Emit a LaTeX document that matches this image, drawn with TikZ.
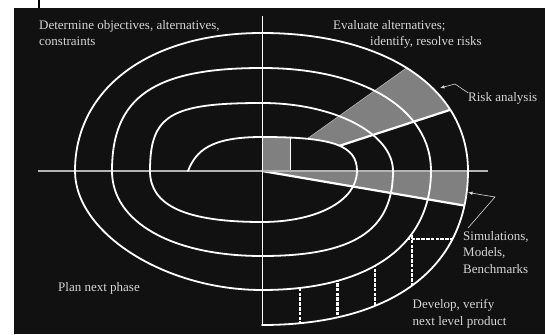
\documentclass[tikz,border=0pt]{standalone}
\usepackage{fontspec}
\setmainfont{Liberation Serif}
\usepackage{tikz}
\usetikzlibrary{arrows.meta,positioning}
\definecolor{board}{HTML}{111111}
\definecolor{chalk}{HTML}{FFFFFF}
\definecolor{labelgray}{HTML}{D6D6D6}
\definecolor{axisgray}{HTML}{B4B4B4}
\definecolor{wedge}{HTML}{808080}
\tikzset{
  spiral/.style={draw=chalk,line width=1.8pt,line cap=round,line join=round},
  axisline/.style={draw=axisgray,line width=1.2pt},
  rayline/.style={draw=chalk,line width=2.2pt},
  thinray/.style={draw=axisgray,line width=0.6pt},
  devdash/.style={draw=chalk,line width=2.3pt,dash pattern=on 3.5pt off 1.3pt},
  lbl/.style={font=\fontsize{13}{15}\selectfont,text=labelgray,
              anchor=base west,inner sep=0pt},
  pointer/.style={-{Latex[length=4.5pt,width=3.5pt]},draw=labelgray,
                  line width=0.6pt},
}
% quarter turn from (#1,#2) to (#3,#4); #5 sets how square the turn is
\newcommand{\quarterto}[5]{.. controls ({#1+#5*(#3)},{#2+#5*(#4)})
  and ({#3+#5*(#1)},{#4+#5*(#2)}) .. (#3,#4)}

\begin{document}
\begin{tikzpicture}[x=1pt,y=1pt]
  \useasboundingbox (-262,-163) rectangle (283,171);
  \fill[white] (-262,-163) rectangle (283,171);
  \fill[board] (-248,-163) rectangle (283,163);
  \draw[black,line width=1.6pt] (-223,171) -- (-223,163);
  \coordinate (O) at (0,0);

  % risk analysis sector
  \begin{scope}
    \clip (0,138) \quarterto{0}{138}{206}{0}{0.6} -- (95,0)
          \quarterto{95}{0}{0}{34}{0.75} -- cycle;
    \fill[wedge] (O) -- (18:300) -- (35.5:300) -- cycle;
    \draw[thinray] (O) -- (35.5:300);
    \draw[rayline] (O) -- (18:300);
  \end{scope}
  % first prototype
  \begin{scope}
    \clip (O) -- (0,34) \quarterto{0}{34}{95}{0}{0.75} -- cycle;
    \fill[wedge] (O) rectangle (28.5,40);
    \draw[chalk,line width=0.8pt] (28.5,0) -- (28.5,40);
  \end{scope}
  % simulations sector
  \begin{scope}
    \clip (O) -- (206,0) \quarterto{206}{0}{0}{-154}{0.63} -- cycle;
    \fill[wedge] (O) -- (0:300) -- (-9.7:300) -- cycle;
    \draw[rayline] (O) -- (-9.7:300);
  \end{scope}
  % develop, verify band
  \begin{scope}
    \clip (169,0) \quarterto{169}{0}{0}{-119}{0.63} -- (0,-154)
          \quarterto{0}{-154}{206}{0}{0.63} -- cycle;
    \foreach \x in {38,75.5,113,150}
      \draw[devdash] (\x,-40) -- (\x,-160);
    \draw[devdash] (140,-68) -- (220,-68);
  \end{scope}

  \draw[axisline] (-224,0) -- (226,0);
  \draw[chalk,line width=1pt] (0,155) -- (0,-154);

  \draw[spiral] (-74,0) .. controls (-66,20) and (-52,34) .. (0,34)
    \quarterto{0}{34}{95}{0}{0.75}
    \quarterto{95}{0}{0}{-51}{0.58}
    \quarterto{0}{-51}{-112}{0}{0.68}
    \quarterto{-112}{0}{0}{68}{0.82}
    \quarterto{0}{68}{131}{0}{0.55}
    \quarterto{131}{0}{0}{-85}{0.7}
    \quarterto{0}{-85}{-150}{0}{0.6}
    \quarterto{-150}{0}{0}{103}{0.72}
    \quarterto{0}{103}{169}{0}{0.6}
    \quarterto{169}{0}{0}{-119}{0.63}
    \quarterto{0}{-119}{-187}{0}{0.52}
    \quarterto{-187}{0}{0}{138}{0.6}
    \quarterto{0}{138}{206}{0}{0.6}
    \quarterto{206}{0}{0}{-154}{0.63};

  \node[lbl] (detA) at (-223,141.5) {Determine objectives, alternatives,};
  \node[lbl] (detB) at (-223,125.5) {constraints};
  \node[lbl] (evalA) at (71,141.5) {Evaluate alternatives;};
  \node[lbl] (evalB) at (108,125) {identify, resolve risks};
  \node[lbl] (riskLbl) at (206,69) {Risk analysis};
  \node[lbl] (simA) at (201,-69) {Simulations,};
  \node[lbl] (simB) at (201,-85.5) {Models,};
  \node[lbl] (simC) at (201,-102) {Benchmarks};
  \node[lbl] (devA) at (150.5,-137) {Develop, verify};
  \node[lbl] (devB) at (150.5,-154) {next level product};
  \node[lbl] (planLbl) at (-204,-120) {Plan next phase};

  \coordinate (riskBend) at (193,87);
  \coordinate (riskTip) at (178,83);
  \draw[pointer] (riskLbl.north west) -- (riskBend) -- (riskTip);
  \coordinate (simFoot) at (206,-57);
  \coordinate (simBend) at (233,-26);
  \coordinate (simTip) at (206,-21.5);
  \draw[pointer] (simFoot) -- (simBend) -- (simTip);
\end{tikzpicture}
\end{document}
